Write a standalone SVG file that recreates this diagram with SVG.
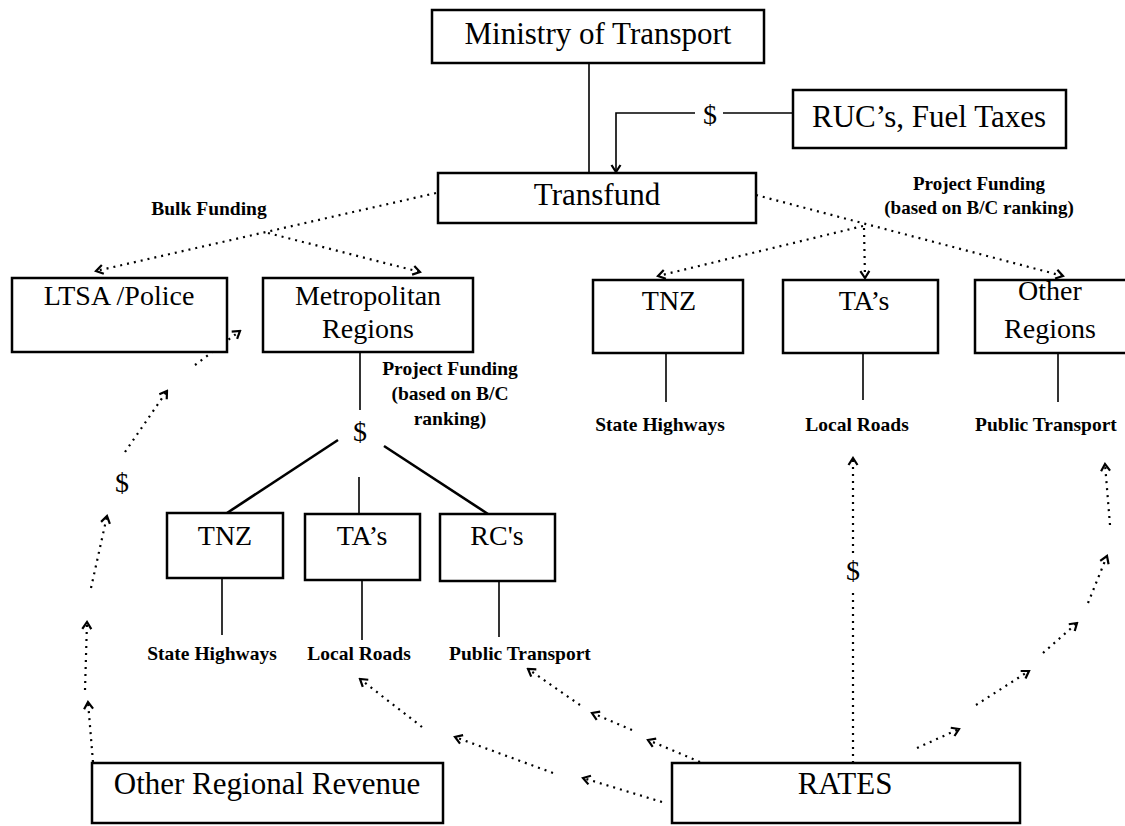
<svg xmlns="http://www.w3.org/2000/svg" width="1125" height="826" viewBox="0 0 1125 826">
<style>
  .box { fill: #fff; stroke: #000; stroke-width: 2.5; }
  .big { font-family: "Liberation Serif", "Times New Roman", serif; font-size: 31px; fill: #000; text-anchor: middle; }
  .mid { font-family: "Liberation Serif", "Times New Roman", serif; font-size: 28px; fill: #000; text-anchor: middle; }
  .lbl { font-family: "Liberation Serif", "Times New Roman", serif; font-size: 19.5px; font-weight: bold; fill: #000; text-anchor: middle; }
  .sm { font-family: "Liberation Serif", "Times New Roman", serif; font-size: 19px; font-weight: bold; fill: #000; text-anchor: middle; }
  .line { fill: none; stroke: #000; stroke-width: 1.6; }
  .thick { fill: none; stroke: #000; stroke-width: 2.6; }
  .dot { fill: none; stroke: #000; stroke-width: 2.2; stroke-dasharray: 2 5; }
</style>
<defs>
  <marker id="ah" viewBox="-10 -7 12 14" refX="0" refY="0" markerWidth="12" markerHeight="14" markerUnits="userSpaceOnUse" orient="auto">
    <path d="M-7,-4.5 L0,0 L-7,4.5" fill="none" stroke="#000" stroke-width="2.2" stroke-dasharray="none"/>
  </marker>
</defs>

<g id="connectors">
  <line class="line" x1="589" y1="63" x2="589" y2="173"/>
  <line class="line" x1="793" y1="113" x2="723" y2="113"/>
  <polyline class="line" points="695,113 616,113 616,172" marker-end="url(#ah)"/>
  <text class="mid" x="710" y="124">$</text>

  <line class="dot" x1="436" y1="193" x2="96" y2="271" marker-end="url(#ah)"/>
  <line class="dot" x1="268" y1="233" x2="420" y2="272" marker-end="url(#ah)"/>

  <line class="dot" x1="756" y1="195" x2="1063" y2="276" marker-end="url(#ah)"/>
  <line class="dot" x1="863" y1="226" x2="658" y2="276" marker-end="url(#ah)"/>
  <line class="dot" x1="864" y1="228" x2="865" y2="278" marker-end="url(#ah)"/>

  <line class="line" x1="666" y1="353" x2="666" y2="402"/>
  <line class="line" x1="863" y1="353" x2="863" y2="400"/>
  <line class="line" x1="1058" y1="353" x2="1058" y2="402"/>

  <line class="line" x1="360" y1="352" x2="360" y2="410"/>
  <text class="mid" x="360" y="441">$</text>
  <line class="thick" x1="338" y1="440" x2="227" y2="513"/>
  <line class="line" x1="359" y1="477" x2="359" y2="514"/>
  <line class="thick" x1="384" y1="446" x2="488" y2="514"/>
  <line class="line" x1="222" y1="578" x2="222" y2="635"/>
  <line class="line" x1="362" y1="580" x2="362" y2="640"/>
  <line class="line" x1="499" y1="581" x2="499" y2="637"/>

  <line class="dot" x1="93" y1="762" x2="88" y2="702" marker-end="url(#ah)"/>
  <line class="dot" x1="85" y1="690" x2="87" y2="622" marker-end="url(#ah)"/>
  <line class="dot" x1="91" y1="588" x2="107" y2="516" marker-end="url(#ah)"/>
  <text class="mid" x="122" y="492">$</text>
  <line class="dot" x1="125" y1="452" x2="167" y2="391" marker-end="url(#ah)"/>
  <line class="dot" x1="195" y1="365" x2="240" y2="331" marker-end="url(#ah)"/>

  <line class="dot" x1="853" y1="763" x2="853" y2="590"/>
  <text class="mid" x="853" y="580">$</text>
  <line class="dot" x1="853" y1="553" x2="853" y2="458" marker-end="url(#ah)"/>

  <line class="dot" x1="917" y1="748" x2="959" y2="729" marker-end="url(#ah)"/>
  <line class="dot" x1="976" y1="705" x2="1029" y2="671" marker-end="url(#ah)"/>
  <line class="dot" x1="1043" y1="653" x2="1077" y2="623" marker-end="url(#ah)"/>
  <line class="dot" x1="1088" y1="603" x2="1107" y2="556" marker-end="url(#ah)"/>
  <line class="dot" x1="1110" y1="525" x2="1105" y2="464" marker-end="url(#ah)"/>

  <line class="dot" x1="700" y1="762" x2="648" y2="740" marker-end="url(#ah)"/>
  <line class="dot" x1="632" y1="730" x2="592" y2="713" marker-end="url(#ah)"/>
  <line class="dot" x1="580" y1="705" x2="528" y2="669" marker-end="url(#ah)"/>

  <line class="dot" x1="662" y1="802" x2="583" y2="778" marker-end="url(#ah)"/>
  <line class="dot" x1="553" y1="773" x2="455" y2="737" marker-end="url(#ah)"/>
  <line class="dot" x1="422" y1="727" x2="360" y2="679" marker-end="url(#ah)"/>
</g>

<g id="labels">
  <text class="lbl" x="209" y="215">Bulk Funding</text>
  <text class="sm" x="979" y="190">Project Funding</text>
  <text class="sm" x="979" y="214">(based on B/C ranking)</text>
  <text class="lbl" x="450" y="375">Project Funding</text>
  <text class="lbl" x="450" y="400">(based on B/C</text>
  <text class="lbl" x="450" y="425">ranking)</text>
  <text class="lbl" x="660" y="431">State Highways</text>
  <text class="lbl" x="857" y="431">Local Roads</text>
  <text class="lbl" x="1046" y="431">Public Transport</text>
  <text class="lbl" x="212" y="660">State Highways</text>
  <text class="lbl" x="359" y="660">Local Roads</text>
  <text class="lbl" x="520" y="660">Public Transport</text>
</g>

<g id="ministry">
  <rect class="box" x="432" y="10" width="332" height="53"/>
  <text class="big" x="598" y="44">Ministry of Transport</text>
</g>
<g id="ruc">
  <rect class="box" x="793" y="90" width="273" height="58"/>
  <text class="big" x="929" y="127">RUC’s, Fuel Taxes</text>
</g>
<g id="transfund">
  <rect class="box" x="438" y="173" width="318" height="50"/>
  <text class="big" x="597" y="205">Transfund</text>
</g>
<g id="ltsa">
  <rect class="box" x="12" y="278" width="215" height="74"/>
  <text class="mid" x="119" y="305">LTSA /Police</text>
</g>
<g id="metro">
  <rect class="box" x="263" y="278" width="210" height="74"/>
  <text class="mid" x="368" y="305">Metropolitan</text>
  <text class="mid" x="368" y="338">Regions</text>
</g>
<g id="tnz-top">
  <rect class="box" x="593" y="280" width="150" height="73"/>
  <text class="mid" x="669" y="310">TNZ</text>
</g>
<g id="tas-top">
  <rect class="box" x="783" y="280" width="155" height="73"/>
  <text class="mid" x="864" y="310">TA’s</text>
</g>
<g id="other-regions">
  <rect class="box" x="975" y="280" width="160" height="73"/>
  <text class="mid" x="1050" y="300">Other</text>
  <text class="mid" x="1050" y="338">Regions</text>
</g>
<g id="tnz-metro">
  <rect class="box" x="167" y="513" width="116" height="65"/>
  <text class="mid" x="225" y="545">TNZ</text>
</g>
<g id="tas-metro">
  <rect class="box" x="305" y="514" width="115" height="66"/>
  <text class="mid" x="362" y="545">TA’s</text>
</g>
<g id="rcs-metro">
  <rect class="box" x="440" y="514" width="115" height="67"/>
  <text class="mid" x="497" y="545">RC's</text>
</g>
<g id="other-revenue">
  <rect class="box" x="92" y="763" width="351" height="60"/>
  <text class="big" x="267" y="794">Other Regional Revenue</text>
</g>
<g id="rates">
  <rect class="box" x="672" y="763" width="348" height="60"/>
  <text class="big" x="845" y="794">RATES</text>
</g>
</svg>
